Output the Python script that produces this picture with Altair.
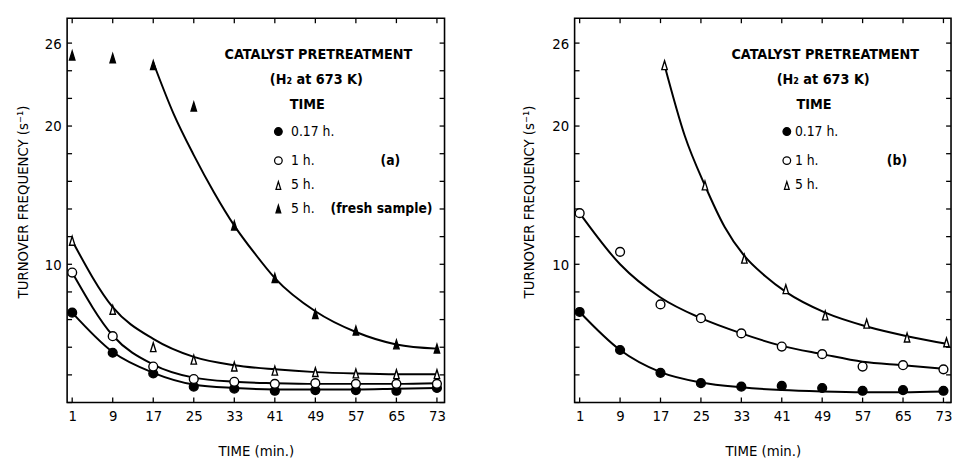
import altair as alt
import pandas as pd

FONT = "DejaVu Sans Condensed, Liberation Sans Narrow, DejaVu Sans, sans-serif"

# ---------------- data ----------------
TIMES = [1, 9, 17, 25, 33, 41, 49, 57, 65, 73]
X_TICKS = [1, 9, 17, 25, 33, 41, 49, 57, 65, 73]
Y_TICKS = [0, 2, 4, 6, 8, 10, 12, 14, 16, 18, 20, 22, 24, 26]
Y_LABELS = [10, 20, 26]

# panel (a) measured points
A_017 = [6.5, 3.6, 2.1, 1.15, 1.0, 0.85, 0.9, 0.9, 0.85, 1.05]
A_1H = [9.4, 4.8, 2.6, 1.7, 1.5, 1.35, 1.4, 1.35, 1.35, 1.35]
A_5H = [11.7, 6.7, 4.0, 3.1, 2.6, 2.3, 2.2, 2.1, 2.05, 2.05]
A_FRESH = [25.1, 24.9, 24.4, 21.4, 12.8, 9.0, 6.4, 5.2, 4.2, 3.9]
# panel (a) drawn curves
A_017_FIT = [6.5, 3.65, 2.15, 1.3, 1.05, 0.95, 0.95, 0.95, 1.0, 1.05]
A_1H_FIT = [9.4, 4.85, 2.75, 1.8, 1.5, 1.4, 1.35, 1.35, 1.35, 1.4]
A_5H_FIT = [11.7, 6.9, 4.6, 3.3, 2.7, 2.4, 2.2, 2.1, 2.05, 2.05]
A_FRESH_FIT_T = [17, 21, 25, 29, 33, 37, 41, 49, 57, 65, 73]
A_FRESH_FIT = [24.6, 20.9, 17.9, 15.2, 12.8, 10.8, 9.0, 6.6, 5.1, 4.2, 3.9]

# panel (b) measured points
B_017 = [6.55, 3.8, 2.15, 1.4, 1.15, 1.2, 1.05, 0.85, 0.9, 0.85]
B_1H = [13.7, 10.9, 7.1, 6.1, 5.0, 4.05, 3.5, 2.6, 2.7, 2.4]
B_5H_T = [17.8, 25.8, 33.6, 41.8, 49.6, 57.8, 65.8, 73.6]
B_5H = [24.4, 15.7, 10.4, 8.2, 6.3, 5.7, 4.7, 4.35]
# panel (b) drawn curves
B_017_FIT = [6.55, 3.8, 2.2, 1.45, 1.1, 0.9, 0.8, 0.75, 0.75, 0.8]
B_1H_FIT = [13.7, 10.0, 7.6, 6.1, 5.0, 4.1, 3.5, 2.95, 2.7, 2.45]
B_5H_FIT_T = [17.8, 21.8, 25.8, 29.7, 33.6, 37.7, 41.8, 49.6, 57.8, 65.8, 73.6]
B_5H_FIT = [24.4, 19.3, 15.7, 12.7, 10.6, 9.15, 8.0, 6.5, 5.5, 4.8, 4.25]

# legend / annotation texts (data coordinates)
HEADERS = ["CATALYST PRETREATMENT", "(H\u2082 at 673 K)", "TIME"]
HEADER_T = [49.6, 49.2, 47.4]
HEADER_V = [25.1, 23.35, 21.5]
ENTRY_V = [19.6, 17.5, 15.7, 14.0]
A_ENTRIES = ["0.17 h.", "1 h.", "5 h.", "5 h."]
B_ENTRIES = ["0.17 h.", "1 h.", "5 h."]
A_STYLES = ["filled_circle", "open_circle", "open_tri", "filled_tri"]
B_STYLES = ["filled_circle", "open_circle", "open_tri"]

W_A, W_B, H = 383, 382, 390
TICK = 5

TRI = "M0,-1L0.62,1L-0.62,1Z"
STYLES = {
    "filled_circle": dict(shape="circle", fill="black", stroke="black"),
    "open_circle": dict(shape="circle", fill="white", stroke="black"),
    "open_tri": dict(shape=TRI, fill="white", stroke="black"),
    "filled_tri": dict(shape=TRI, fill="black", stroke="black"),
}

xs = alt.Scale(domain=[0, 74.5], nice=False, zero=False)
ys = alt.Scale(domain=[0, 27.8], nice=False, zero=False)


def panel(width, points, curves, entries, styles, marker_t, text_t, tag, fresh_t, y_title_pad):
    xaxis = alt.Axis(values=X_TICKS, title="TIME (min.)", ticks=False, domain=False,
                     grid=False, labelPadding=6, titlePadding=21)
    yaxis = alt.Axis(values=Y_LABELS, title="TURNOVER FREQUENCY (s\u207b\u00b9)", ticks=False,
                     domain=False, grid=False, labelPadding=6, titlePadding=y_title_pad,
                     titleY=186)
    X = alt.X("t:Q", scale=xs, axis=xaxis)
    Y = alt.Y("v:Q", scale=ys, axis=yaxis)
    layers = []
    yt = pd.DataFrame({"v": Y_TICKS})
    xt = pd.DataFrame({"t": X_TICKS})
    rule = dict(color="black", strokeWidth=1.3)
    layers += [
        alt.Chart(yt).mark_rule(**rule).encode(y=Y, x=alt.value(0), x2=alt.value(TICK)),
        alt.Chart(yt).mark_rule(**rule).encode(y=Y, x=alt.value(width - TICK), x2=alt.value(width)),
        alt.Chart(xt).mark_rule(**rule).encode(x=X, y=alt.value(H - TICK), y2=alt.value(H)),
        alt.Chart(xt).mark_rule(**rule).encode(x=X, y=alt.value(0), y2=alt.value(TICK)),
    ]
    cdf = pd.concat([pd.DataFrame({"t": t, "v": v, "s": name}) for name, t, v in curves])
    layers.append(alt.Chart(cdf).mark_line(color="black", strokeWidth=2, interpolate="monotone")
                  .encode(x=X, y=Y, detail="s:N"))
    for style, t, v in points:
        layers.append(alt.Chart(pd.DataFrame({"t": t, "v": v}))
                      .mark_point(filled=True, size=80, strokeWidth=1.4, opacity=1, **STYLES[style])
                      .encode(x=X, y=Y))
    # legend markers
    for style, v in zip(styles, ENTRY_V):
        layers.append(alt.Chart(pd.DataFrame({"t": [marker_t], "v": [v]}))
                      .mark_point(filled=True, size=60, strokeWidth=1.3, opacity=1, **STYLES[style])
                      .encode(x=X, y=Y))
    hdr = pd.DataFrame({"t": HEADER_T, "v": HEADER_V, "text": HEADERS})
    layers.append(alt.Chart(hdr).mark_text(font=FONT, fontSize=14.5, fontWeight="bold", align="center",
                                           baseline="middle", color="black")
                  .encode(x=X, y=Y, text="text:N"))
    ent = pd.DataFrame({"t": [text_t] * len(entries), "v": ENTRY_V[:len(entries)], "text": entries})
    layers.append(alt.Chart(ent).mark_text(font=FONT, fontSize=14, align="left",
                                           baseline="middle", color="black")
                  .encode(x=X, y=Y, text="text:N"))
    tagdf = pd.DataFrame({"t": [63.8], "v": [ENTRY_V[1]], "text": [tag]})
    layers.append(alt.Chart(tagdf).mark_text(font=FONT, fontSize=14, fontWeight="bold", align="center",
                                             baseline="middle", color="black")
                  .encode(x=X, y=Y, text="text:N"))
    if fresh_t is not None:
        fr = pd.DataFrame({"t": [fresh_t], "v": [ENTRY_V[3]], "text": ["(fresh sample)"]})
        layers.append(alt.Chart(fr).mark_text(font=FONT, fontSize=14, fontWeight="bold", align="left",
                                              baseline="middle", color="black")
                      .encode(x=X, y=Y, text="text:N"))
    return alt.layer(*layers).properties(width=width, height=H)


left = panel(
    W_A,
    points=[("filled_circle", TIMES, A_017), ("open_circle", TIMES, A_1H),
            ("open_tri", TIMES, A_5H), ("filled_tri", TIMES, A_FRESH)],
    curves=[("a017", TIMES, A_017_FIT), ("a1h", TIMES, A_1H_FIT), ("a5h", TIMES, A_5H_FIT),
            ("afresh", A_FRESH_FIT_T, A_FRESH_FIT)],
    entries=A_ENTRIES, styles=A_STYLES, marker_t=41.7, text_t=44.2, tag="(a)", fresh_t=52.0,
    y_title_pad=14,
)
right = panel(
    W_B,
    points=[("filled_circle", TIMES, B_017), ("open_circle", TIMES, B_1H), ("open_tri", B_5H_T, B_5H)],
    curves=[("b017", TIMES, B_017_FIT), ("b1h", TIMES, B_1H_FIT), ("b5h", B_5H_FIT_T, B_5H_FIT)],
    entries=B_ENTRIES, styles=B_STYLES, marker_t=42.0, text_t=43.6, tag="(b)", fresh_t=None,
    y_title_pad=16,
)

chart = (
    alt.hconcat(left, right, spacing=75)
    .properties(padding={"left": 7, "top": 5, "right": 0, "bottom": 0}, background="white")
    .configure_view(stroke="black", strokeWidth=1.6)
    .configure_axis(labelFont=FONT, labelFontSize=15, labelColor="black", titleFont=FONT,
                    titleFontSize=15, titleFontWeight="normal", titleColor="black")
)

chart.save("out.html", embed_options={"renderer": "svg", "actions": False})
